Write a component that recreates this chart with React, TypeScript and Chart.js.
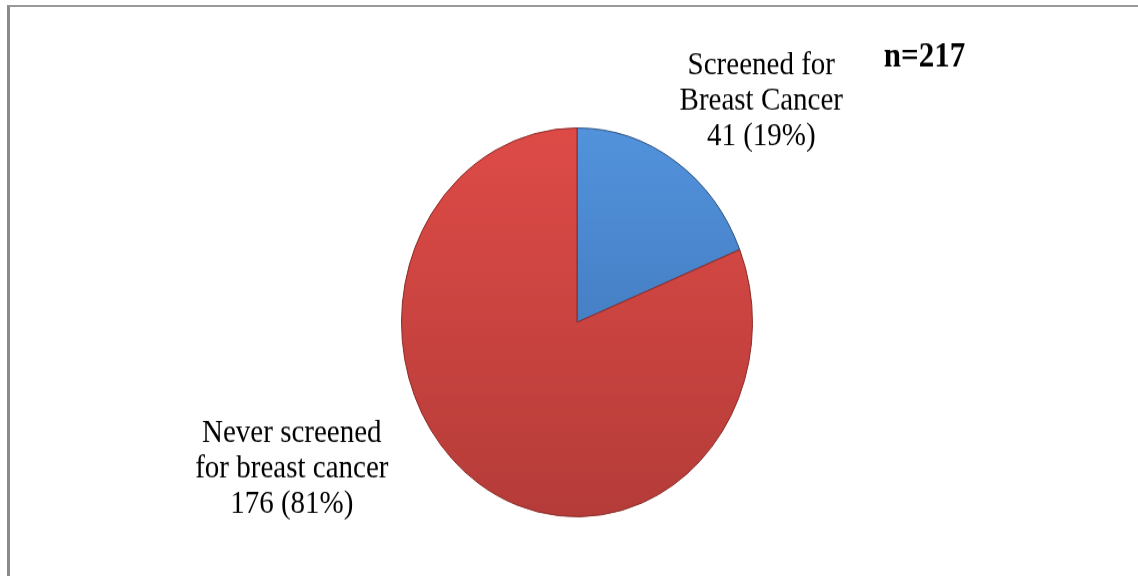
import React, { useEffect, useRef } from "react";
import { Chart, registerables } from "chart.js";

Chart.register(...registerables);

// ---- Data ----
const categories = ["Screened for Breast Cancer", "Never screened for breast cancer"];
const counts = [41, 176];
const sampleLabel = "n=217";
const sliceLabelLines = [
  ["Screened for", "Breast Cancer", "41 (19%)"],
  ["Never screened", "for breast cancer", "176 (81%)"],
];

// ---- Styles ----
const colorsTop = ["#5293DC", "#DE4B47"];
const colorsBottom = ["#3A6CAE", "#B53C39"];
const borderColors = ["#2A4F80", "#8A2A27"];

const CANVAS_W = 1138;
const CANVAS_H = 520;
const STRETCH_Y = 576 / CANVAS_H;

// label anchor offsets relative to pie centre, in radii
const labelOffsets = [
  { dx: 1.05, dy: -1.14 },
  { dx: -1.625, dy: 0.757 },
];
const nOffset = { dx: 1.98, dy: -1.36 };

const labelPlugin = {
  id: "sliceLabels",
  afterDraw(chart: any) {
    const meta = chart.getDatasetMeta(0);
    const arc = meta.data[0];
    if (!arc) return;
    const { x, y, outerRadius } = arc.getProps(["x", "y", "outerRadius"], true);
    const ctx = chart.ctx;
    ctx.save();
    ctx.fillStyle = "#000";
    ctx.textAlign = "center";
    ctx.textBaseline = "middle";
    ctx.font = "29px 'Liberation Serif', 'Times New Roman', serif";
    const lh = 32;
    sliceLabelLines.forEach((lines, i) => {
      const cx = x + labelOffsets[i].dx * outerRadius;
      const cy = y + labelOffsets[i].dy * outerRadius;
      lines.forEach((t, j) => {
        ctx.fillText(t, cx, cy + (j - (lines.length - 1) / 2) * lh);
      });
    });
    ctx.font = "bold 31px 'Liberation Serif', 'Times New Roman', serif";
    ctx.fillText(sampleLabel, x + nOffset.dx * outerRadius, y + nOffset.dy * outerRadius);
    ctx.restore();
  },
};

export default function App() {
  const ref = useRef<HTMLCanvasElement | null>(null);

  useEffect(() => {
    if (!ref.current) return;
    const chart = new Chart(ref.current, {
      type: "pie",
      data: {
        labels: categories,
        datasets: [
          {
            data: counts,
            backgroundColor: (c: any) => {
              const i = c.dataIndex ?? 0;
              const area = c.chart.chartArea;
              if (!area) return colorsTop[i];
              const g = c.chart.ctx.createLinearGradient(0, area.top, 0, area.bottom);
              g.addColorStop(0, colorsTop[i]);
              g.addColorStop(1, colorsBottom[i]);
              return g;
            },
            borderColor: borderColors,
            borderWidth: 1,
          },
        ],
      },
      options: {
        animation: false,
        responsive: true,
        maintainAspectRatio: false,
        layout: { padding: { top: 115, bottom: 53, left: 16, right: 0 } },
        plugins: {
          legend: { display: false },
          tooltip: { enabled: false },
        },
      },
      plugins: [labelPlugin],
    });
    return () => chart.destroy();
  }, []);

  return (
    <div style={{ position: "absolute", left: 0, top: 0, width: 1138, height: 576, overflow: "hidden", background: "#fff" }}>
      <div
        style={{
          position: "absolute",
          left: 0,
          top: 0,
          width: CANVAS_W,
          height: CANVAS_H,
          transform: `scaleY(${STRETCH_Y})`,
          transformOrigin: "0 0",
        }}
      >
        <canvas ref={ref} />
      </div>
      <div
        style={{
          position: "absolute",
          left: 7,
          top: 5,
          width: 1131,
          height: 571,
          boxSizing: "border-box",
          borderTop: "2px solid #999",
          borderLeft: "3px solid #8a8a8a",
          pointerEvents: "none",
        }}
      />
    </div>
  );
}
